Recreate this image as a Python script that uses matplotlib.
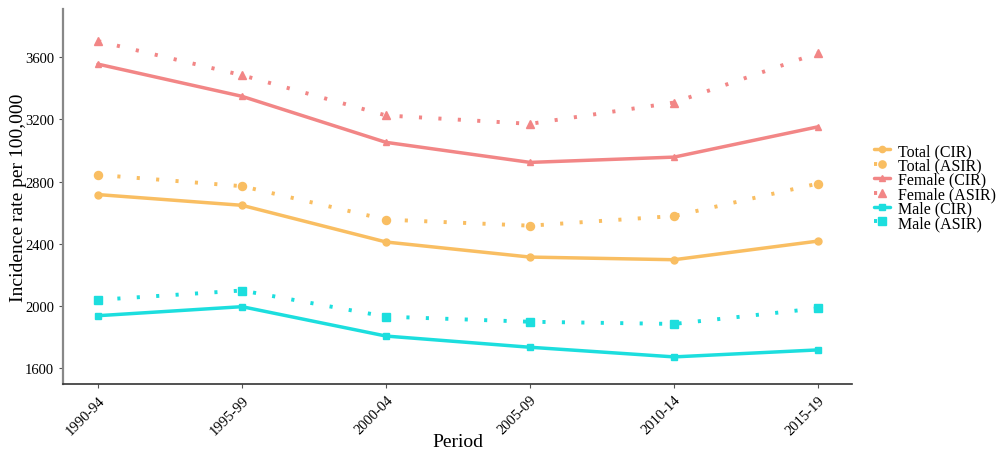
import matplotlib
matplotlib.use("Agg")
import matplotlib.pyplot as plt

plt.rcParams['font.family'] = ['Liberation Serif', 'DejaVu Serif']

periods = ["1990-94", "1995-99", "2000-04", "2005-09", "2010-14", "2015-19"]

total_cir = [2716, 2647, 2411, 2314, 2297, 2417]
total_asir = [2843, 2770, 2555, 2516, 2578, 2787]
female_cir = [3555, 3348, 3052, 2923, 2957, 3152]
female_asir = [3703, 3484, 3225, 3171, 3308, 3627]
male_cir = [1937, 1995, 1806, 1734, 1672, 1717]
male_asir = [2039, 2099, 1931, 1898, 1884, 1985]

c_total = "#F9BE62"
c_female = "#F28686"
c_male = "#1CDEDE"

series = [
    ("Total (CIR)", total_cir, c_total, "o", "-"),
    ("Total (ASIR)", total_asir, c_total, "o", ":"),
    ("Female (CIR)", female_cir, c_female, "^", "-"),
    ("Female (ASIR)", female_asir, c_female, "^", ":"),
    ("Male (CIR)", male_cir, c_male, "s", "-"),
    ("Male (ASIR)", male_asir, c_male, "s", ":"),
]

fig = plt.figure(figsize=(10.04, 4.52), dpi=100)
ax = fig.add_axes([0.0627, 0.148, 0.786, 0.83])

x = list(range(len(periods)))
handles = []
for label, vals, col, mk, ls in series:
    if ls == "-":
        h, = ax.plot(x, vals, color=col, lw=2.5, ls="-", marker=mk, ms=5,
                     label=label, solid_capstyle="round")
    else:
        h, = ax.plot(x, vals, color=col, lw=2.8, ls=(0, (0.8, 4.2)), marker=mk,
                     ms=5.8, label=label, dash_capstyle="butt")
    handles.append(h)

ax.set_xlim(-0.243, 5.236)
ax.set_ylim(1497, 3910)
ax.set_xticks(x)
ax.set_xticklabels(periods, rotation=45, ha="right", rotation_mode="anchor",
                   fontsize=10.5)
ax.set_yticks([1600, 2000, 2400, 2800, 3200, 3600])
ax.tick_params(axis="y", labelsize=10.5, length=3, color="#555555")
ax.tick_params(axis="x", length=3, color="#555555")
for s in ["top", "right"]:
    ax.spines[s].set_visible(False)
ax.spines["left"].set_color("#888888")
ax.spines["left"].set_linewidth(1.6)
ax.spines["bottom"].set_color("#333333")
ax.spines["bottom"].set_linewidth(1.2)

ax.set_xlabel("Period", fontsize=14, labelpad=-3)
ax.set_ylabel("Incidence rate per 100,000", fontsize=14)
ax.yaxis.set_label_coords(-0.046, 0.5)

fig.legend(handles=handles, loc="center left", bbox_to_anchor=(0.856, 0.584),
           frameon=False, fontsize=11.5, handlelength=1.0, handletextpad=0.5,
           labelspacing=-0.1, markerscale=0.9)

fig.savefig("out.png", dpi=100)
